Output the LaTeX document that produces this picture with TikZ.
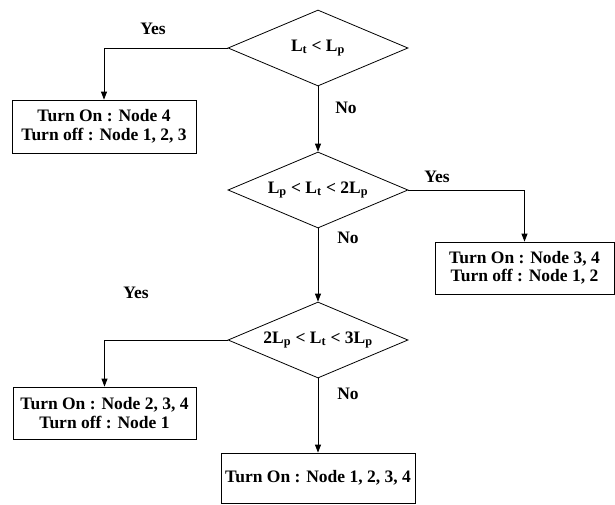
\documentclass[tikz,border=0pt]{standalone}
\usepackage{fontspec}
\setmainfont{Liberation Serif}
\usetikzlibrary{arrows.meta,shapes.geometric}
\newcommand{\Lt}{L\textsubscript{t}}
\newcommand{\Lp}{L\textsubscript{p}}

\begin{document}
\begin{tikzpicture}[>={Triangle[length=8pt,width=6pt]},x=1pt,y=-1pt,line width=0.8pt,
    every node/.style={font=\fontsize{17.5}{18.5}\selectfont\bfseries},
    test/.style={diamond,draw,aspect=2.37,minimum width=180pt,minimum height=76pt,inner sep=0pt},
    action/.style={draw,align=center,inner sep=0pt}]
    \useasboundingbox (0,0) rectangle (615,504);

    % Decisions down the middle
    \node[test] (d1) at (318,48)  {\Lt{} < \Lp};
    \node[test] (d2) at (318,190) {\Lp{} < \Lt{} < 2\Lp};
    \node[test] (d3) at (318,340) {2\Lp{} < \Lt{} < 3\Lp};

    % Node states
    \node[action,minimum width=184pt,minimum height=53pt] (s1) at (104,126.5)
        {Turn On : Node 4\\Turn off : Node 1, 2, 3};
    \node[action,minimum width=179pt,minimum height=52pt] (s2) at (524.5,268)
        {Turn On : Node 3, 4\\Turn off : Node 1, 2};
    \node[action,minimum width=183pt,minimum height=52pt] (s3) at (104.5,413)
        {Turn On : Node 2, 3, 4\\Turn off : Node 1};
    \node[action,minimum width=194pt,minimum height=50pt] (s4) at (318,478)
        {Turn On : Node 1, 2, 3, 4};

    % Branches
    \draw[->] (d1.west) -| (s1.north);
    \draw[->] (d1.south) -- (d2.north);
    \draw[->] (d2.east) -| (s2.north);
    \draw[->] (d2.south) -- (d3.north);
    \draw[->] (d3.west) -| (s3.north);
    \draw[->] (d3.south) -- (s4.north);

    % Yes / No labels
    \node (y1) at (153,29)  {Yes};
    \node (n1) at (346,108) {No};
    \node (y2) at (437,177) {Yes};
    \node (n2) at (348,238) {No};
    \node (y3) at (136,293) {Yes};
    \node (n3) at (348,394) {No};
\end{tikzpicture}
\end{document}
